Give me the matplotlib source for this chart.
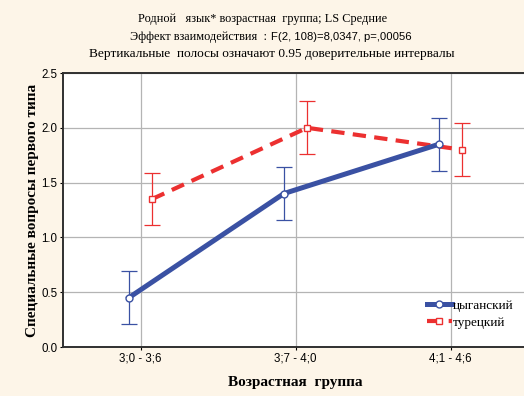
import matplotlib
matplotlib.use("Agg")
import matplotlib.pyplot as plt
import numpy as np

# group means and 95% CI half-widths
groups = ["3;0 - 3;6", "3;7 - 4;0", "4;1 - 4;6"]
gypsy_mean = [0.45, 1.40, 1.85]
gypsy_ci = [0.24, 0.24, 0.24]
turkish_mean = [1.35, 2.00, 1.80]
turkish_ci = [0.24, 0.24, 0.24]
yticks = [0.0, 0.5, 1.0, 1.5, 2.0, 2.5]

BG = "#fdf5e8"
BLUE = "#3a51a3"
RED = "#ec3030"
SERIF = "Liberation Serif"
SANS = "Liberation Sans"

fig = plt.figure(figsize=(5.24, 3.96), dpi=100, facecolor=BG)
ax = fig.add_axes([63 / 524, 49 / 396, 465 / 524, 274 / 396])
ax.set_facecolor("white")

x = np.arange(len(groups))
off = 0.075

ax.errorbar(x + off, turkish_mean, yerr=turkish_ci, fmt="none", ecolor=RED,
            elinewidth=0.9, capsize=5.5, capthick=0.9, zorder=3)
ax.errorbar(x - off, gypsy_mean, yerr=gypsy_ci, fmt="none", ecolor=BLUE,
            elinewidth=0.9, capsize=5.5, capthick=0.9, zorder=3)
ax.plot(x + off, turkish_mean, color=RED, lw=3.0, ls=(0, (3.2, 2.0)),
        marker="s", ms=5, mfc="white", mec=RED, mew=1.0, label="турецкий", zorder=4)
ax.plot(x - off, gypsy_mean, color=BLUE, lw=3.6, ls="-",
        marker="o", ms=5, mfc="white", mec=BLUE, mew=1.0, label="цыганский", zorder=5)

ax.set_xlim(-0.5, 2.5)
ax.set_ylim(0, 2.5)
ax.set_xticks(x)
ax.set_xticklabels(groups, fontfamily=SANS, fontsize=8.3)
ax.set_yticks(yticks)
ax.set_yticklabels([f"{v:.1f}" for v in yticks], fontfamily=SANS, fontsize=8.3)
ax.tick_params(length=2.5, width=0.8, pad=1.5)
ax.grid(True, color="#b4b4b4", lw=0.9)
ax.set_axisbelow(True)

for side in ["left", "bottom", "top"]:
    ax.spines[side].set_color("#303030")
    ax.spines[side].set_linewidth(1.4)
ax.spines["right"].set_visible(False)

ax.set_xlabel("Возрастная  группа", fontfamily=SERIF, fontweight="bold",
              fontsize=11, labelpad=8)
ax.set_ylabel("Специальные вопросы первого типа", fontfamily=SERIF,
              fontweight="bold", fontsize=11, labelpad=2)

h, l = ax.get_legend_handles_labels()
leg = ax.legend(h[::-1], l[::-1], loc="lower left", bbox_to_anchor=(0.757, 0.022),
                frameon=False, handlelength=1.9, handletextpad=0.1,
                labelspacing=0.4, prop={"family": SERIF, "size": 9.5})

# three-line header
fig.text(263 / 524, 1 - 19 / 396, "Родной   язык* возрастная  группа; LS Средние",
         ha="center", va="center", fontfamily=SERIF, fontsize=8.8)
fig.text(267 / 524, 1 - 37 / 396, "Эффект взаимодействия  :",
         ha="right", va="center", fontfamily=SERIF, fontsize=8.8)
fig.text(271 / 524, 1 - 37 / 396, "F(2, 108)=8,0347, p=,00056",
         ha="left", va="center", fontfamily=SANS, fontsize=8.1)
fig.text(272 / 524, 1 - 54 / 396,
         "Вертикальные  полосы означают 0.95 доверительные интервалы",
         ha="center", va="center", fontfamily=SERIF, fontsize=9.6)

fig.savefig("out.png", dpi=100, facecolor=BG)
